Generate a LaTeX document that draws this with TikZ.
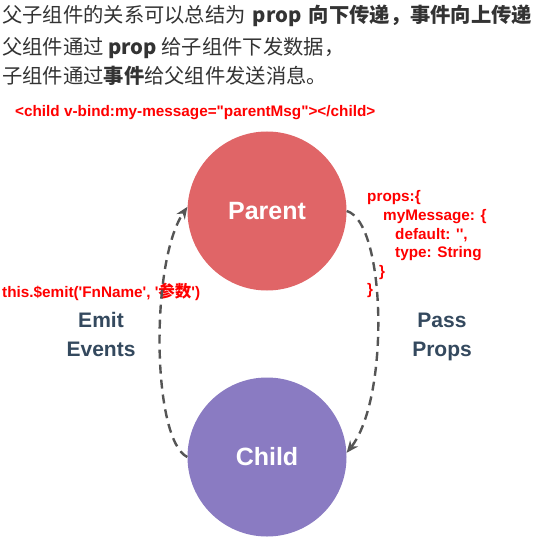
\documentclass[tikz,border=0pt]{standalone}
\usepackage{fontspec}
\setmainfont{Liberation Sans}
\newfontfamily\cjk{Noto Sans CJK SC}
\newfontfamily\codefont{Liberation Sans}[Ligatures=TeXOff]
\usetikzlibrary{arrows.meta}
\definecolor{parentred}{HTML}{E06567}
\definecolor{childpurple}{HTML}{8A7BC2}
\definecolor{bodytext}{HTML}{333333}
\definecolor{slate}{HTML}{34495E}
\definecolor{arrowgray}{HTML}{555555}
\definecolor{codered}{HTML}{FF0000}
\tikzset{
  intro/.style={anchor=west, inner sep=0pt, text=bodytext, font=\cjk\fontsize{20.3}{24}\selectfont},
  codeline/.style={anchor=base west, inner sep=0pt, text=codered, font=\codefont\bfseries\fontsize{15.3}{18}\selectfont},
  roundnode/.style={circle, minimum size=159pt, inner sep=0pt, text=white, font=\bfseries\fontsize{25}{30}\selectfont},
  flowlabel/.style={align=center, anchor=base, inner sep=0pt, text=slate, font=\bfseries\fontsize{21}{28.5}\selectfont},
  flow/.style={draw=arrowgray, line width=2.4pt, dash pattern=on 9pt off 6pt, -{Stealth[length=12pt,width=10pt]}}
}
\begin{document}
\begin{tikzpicture}[x=1pt,y=-1pt]
\useasboundingbox[fill=white] (0,0) rectangle (538,540);
% intro text
\node[intro] (t1) at (2,16) {父子组件的关系可以总结为\hspace{0.35em}{\bfseries prop\hspace{0.35em}向下传递，事件向上传递}};
\node[intro] (t2) at (2,48) {父组件通过 {\bfseries prop} 给子组件下发数据，};
\node[intro] (t3) at (2,76) {子组件通过{\bfseries 事件}给父组件发送消息。};
% code lines
\node[codeline] (bind) at (15,117) {<child v-bind:my-message="parentMsg"></child>};
\node[codeline] (p1) at (367,201) {props:\{};
\node[codeline] (p2) at (383,220) {myMessage: \{};
\node[codeline] (p3) at (395,239) {default: '',};
\node[codeline] (p4) at (395,257) {type: String};
\node[codeline] (p5) at (379,276) {\}};
\node[codeline] (p6) at (367,294) {\}};
\node[codeline] (emit) at (2,297) {this.\$emit('FnName', '{\cjk\bfseries\fontsize{16.5}{18}\selectfont 参数}')};
% circles
\node[roundnode, fill=parentred] (parent) at (267,211) {Parent};
\node[roundnode, fill=childpurple] (child) at (267,457) {Child};
% labels
\node[flowlabel] (emitlbl) at (101,356) {Emit\\Events};
\node[flowlabel] (passlbl) at (442,356) {Pass\\Props};
% connectors
\draw[flow] (child.west) .. controls (152,440) and (150,262) .. (parent.177);
\draw[flow] (parent.east) .. controls (386,222) and (390,398) .. (child.3);
\end{tikzpicture}
\end{document}
